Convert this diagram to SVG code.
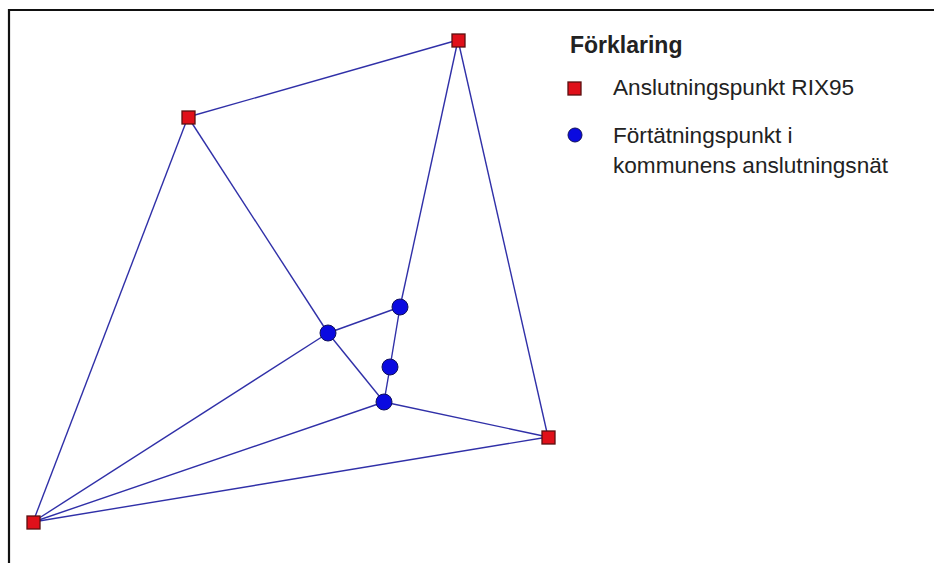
<svg xmlns="http://www.w3.org/2000/svg" width="934" height="563" viewBox="0 0 934 563">
  <style>
    .edge { stroke: #3030a8; stroke-width: 1.4; fill: none; }
    .rix { fill: #e0101a; stroke: #5a1010; stroke-width: 1.3; }
    .fort { fill: #0a0ae0; stroke: #10105a; stroke-width: 1; }
    .lbl { font-family: "Liberation Sans", Arial, sans-serif; font-size: 22.6px; fill: #222; }
    .ttl { font-family: "Liberation Sans", Arial, sans-serif; font-size: 23px; font-weight: bold; fill: #222; }
  </style>
  <rect width="934" height="563" fill="#ffffff"/>
  <!-- frame -->
  <path d="M9,563 V10 H934" fill="none" stroke="#111" stroke-width="2.2"/>

  <g id="connectors">
    <line class="edge" x1="188" y1="117" x2="458" y2="40"/>
    <line class="edge" x1="458" y1="40" x2="400" y2="307"/>
    <line class="edge" x1="458" y1="40" x2="548" y2="437"/>
    <line class="edge" x1="188" y1="117" x2="33" y2="522"/>
    <line class="edge" x1="188" y1="117" x2="328" y2="333"/>
    <line class="edge" x1="328" y1="333" x2="384" y2="402"/>
    <line class="edge" x1="328" y1="333" x2="400" y2="307"/>
    <line class="edge" x1="400" y1="307" x2="390" y2="367"/>
    <line class="edge" x1="390" y1="367" x2="384" y2="402"/>
    <line class="edge" x1="384" y1="402" x2="548" y2="437"/>
    <line class="edge" x1="33" y1="522" x2="328" y2="333"/>
    <line class="edge" x1="33" y1="522" x2="384" y2="402"/>
    <line class="edge" x1="33" y1="522" x2="548" y2="437"/>
  </g>

  <g id="rix-a"><rect class="rix" x="452" y="34" width="13" height="13"/></g>
  <g id="rix-b"><rect class="rix" x="182" y="111" width="13" height="13"/></g>
  <g id="rix-c"><rect class="rix" x="542" y="431" width="13" height="13"/></g>
  <g id="rix-d"><rect class="rix" x="27" y="516" width="13" height="13"/></g>

  <g id="fort-e"><circle class="fort" cx="328" cy="333" r="8"/></g>
  <g id="fort-f"><circle class="fort" cx="400" cy="307" r="8"/></g>
  <g id="fort-g"><circle class="fort" cx="390" cy="367" r="8"/></g>
  <g id="fort-h"><circle class="fort" cx="384" cy="402" r="8"/></g>

  <g id="legend">
    <text class="ttl" x="570" y="53">Förklaring</text>
    <rect class="rix" x="568" y="82" width="13" height="13"/>
    <text class="lbl" x="613" y="95">Anslutningspunkt RIX95</text>
    <circle class="fort" cx="575" cy="135" r="7"/>
    <text class="lbl" x="613" y="143">Förtätningspunkt i</text>
    <text class="lbl" x="613" y="173">kommunens anslutningsnät</text>
  </g>
</svg>
